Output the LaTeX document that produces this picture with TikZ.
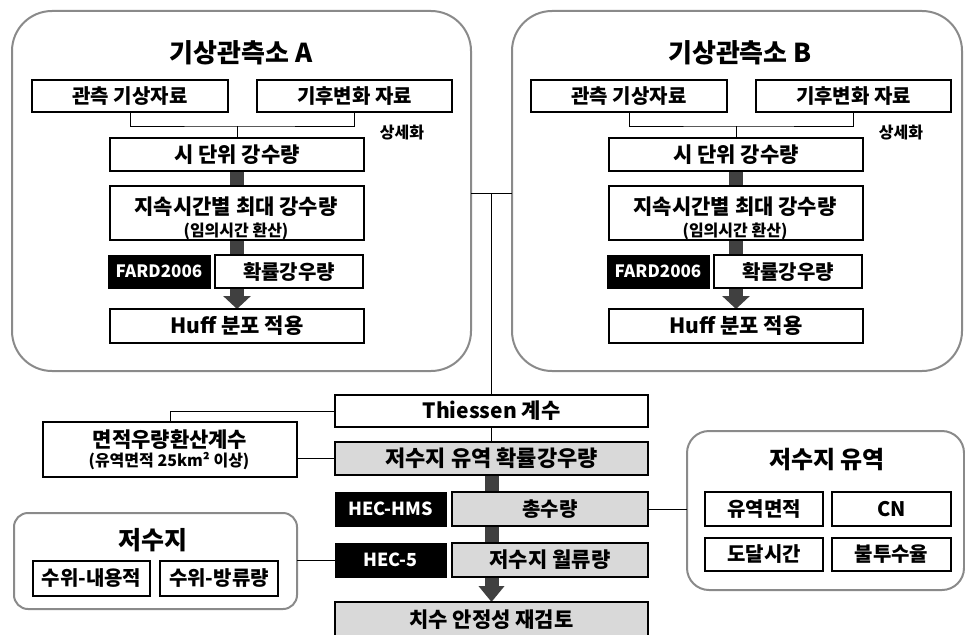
\documentclass[tikz,border=0pt]{standalone}
\usepackage{fontspec}
\setmainfont{Noto Sans CJK KR}
\usetikzlibrary{arrows.meta}
\pgfdeclarelayer{bg}
\pgfsetlayers{bg,main}
\definecolor{arrowc}{HTML}{404040}
\definecolor{panelc}{HTML}{8A8A8A}
\definecolor{grayfill}{HTML}{D9D9D9}
\begin{document}
\begin{tikzpicture}[x=1pt,y=-1pt,
  font=\bfseries,
  base/.style={draw=black, inner sep=0pt, outer sep=0pt, align=center, text=black},
  thinbox/.style={base, line width=1.2pt, fill=white},
  thickbox/.style={base, line width=2.2pt, fill=white},
  gbox/.style={base, line width=2.2pt, fill=grayfill},
  blk/.style={base, fill=black, text=white, line width=0.5pt},
  panel/.style={draw=panelc, line width=2pt, inner sep=0pt, outer sep=0pt},
  conn/.style={draw=black, line width=1pt},
  shaft/.style={draw=arrowc, line width=14pt},
  bigarrow/.style={draw=arrowc, line width=14pt, -{Triangle[width=27pt,length=13pt]}},
  fs/.style={font=\bfseries\fontsize{#1}{22}\selectfont},
  txt/.style={inner sep=0pt, outer sep=0pt}
]
\useasboundingbox (0,0) rectangle (965,634);
\clip (0,0) rectangle (965,634);

\foreach \s/\dx/\pc/\pw in {A/0/241.5/459,B/499/737/450}{
  \node[panel, rounded corners=40pt, minimum width=\pw pt, minimum height=360pt] (p\s) at (\pc,191) {};
  \node[fs=26] (t\s) at (241+\dx,53) {기상관측소 \s};
  \node[thinbox, fs=20, minimum width=196pt, minimum height=32pt] (obs\s) at (130+\dx,96) {관측 기상자료};
  \node[thinbox, fs=20, minimum width=195pt, minimum height=32pt] (cc\s) at (354.5+\dx,96) {기후변화 자료};
  \node[thickbox, fs=21, minimum width=254pt, minimum height=33pt] (hr\s) at (237+\dx,154.5) {시 단위 강수량};
  \node[fs=16] (lbl\s) at (402+\dx,133) {상세화};
  \node[thickbox, minimum width=254pt, minimum height=54pt] (dur\s) at (237+\dx,213) {};
  \node[txt, fs=21] (durone\s) at (236+\dx,207) {지속시간별 최대 강수량};
  \node[txt, fs=16] (durtwo\s) at (236+\dx,231) {(임의시간 환산)};
  \node[blk, fs=17, minimum width=102pt, minimum height=33pt] (fard\s) at (159+\dx,271.5) {FARD2006};
  \node[thickbox, fs=20, minimum width=148pt, minimum height=33pt] (prob\s) at (289+\dx,271.5) {확률강우량};
  \node[thickbox, fs=21, minimum width=254pt, minimum height=34pt] (huff\s) at (237+\dx,326) {Huff 분포 적용};
  \coordinate (j\s) at (237+\dx,126);
  \draw[conn] (obs\s.south) |- (j\s) -| (cc\s.south);
  \draw[conn] (j\s) -- (hr\s.north);
  \begin{pgfonlayer}{bg}
    \draw[shaft] (hr\s.south) -- (dur\s.north);
    \draw[bigarrow] (dur\s.south) -- (huff\s.north);
  \end{pgfonlayer}
}

% lower flow
\node[thinbox, fs=21, minimum width=313pt, minimum height=32pt] (thi) at (491.5,411) {Thiessen 계수};
\node[thinbox, minimum width=254pt, minimum height=55pt] (arf) at (170,449.5) {};
\node[txt, fs=21] (arfone) at (170,440) {면적우량환산계수};
\node[txt, fs=16] (arftwo) at (169,461) {(유역면적 25km² 이상)};
\node[gbox, fs=22, minimum width=313pt, minimum height=33pt] (bp) at (491.5,458.5) {저수지 유역 확률강우량};
\node[blk, fs=18, minimum width=111pt, minimum height=34pt] (hms) at (390.5,509) {HEC-HMS};
\node[gbox, fs=20, minimum width=196pt, minimum height=34pt] (tot) at (550,509) {총수량};
\node[blk, fs=18, minimum width=111pt, minimum height=34pt] (hecfive) at (390.5,560) {HEC-5};
\node[gbox, fs=21, minimum width=196pt, minimum height=34pt] (ovf) at (550,560) {저수지 월류량};
\node[gbox, fs=21, minimum width=313pt, minimum height=36pt] (fin) at (491.5,620) {치수 안정성 재검토};

% reservoir panel
\node[panel, rounded corners=14pt, minimum width=283pt, minimum height=96pt] (resv) at (155.5,561) {};
\node[fs=25] (resvT) at (153,540) {저수지};
\node[thickbox, fs=20, minimum width=117pt, minimum height=35pt] (rvone) at (91.5,578.5) {수위-내용적};
\node[thickbox, fs=20, minimum width=118pt, minimum height=35pt] (rvtwo) at (219,578.5) {수위-방류량};

% basin panel
\node[panel, rounded corners=22pt, minimum width=277pt, minimum height=159pt] (bas) at (825.5,510.5) {};
\node[fs=24] (basT) at (827,460) {저수지 유역};
\node[thickbox, fs=20, minimum width=118pt, minimum height=34pt] (area) at (764,509) {유역면적};
\node[thickbox, fs=20, minimum width=119pt, minimum height=34pt] (cn) at (891.5,509) {CN};
\node[thickbox, fs=20, minimum width=118pt, minimum height=33pt] (tc) at (764,554.5) {도달시간};
\node[thickbox, fs=20, minimum width=119pt, minimum height=33pt] (imp) at (891.5,554.5) {불투수율};

% connectors
\coordinate (jn) at (491.5,193);
\draw[conn] (pA.east |- jn) -- (pB.west |- jn);
\draw[conn] (jn) -- (thi.north);
\draw[conn] (thi.south) -- (bp.north);
\draw[conn] (arf.north) |- (thi.west);
\draw[conn] (arf.east |- bp.west) -- (bp.west);
\draw[conn] (resv.east |- hecfive.west) -- (hecfive.west);
\draw[conn] (tot.east) -- (bas.west |- tot.east);

\begin{pgfonlayer}{bg}
  \draw[draw=arrowc, line width=14pt, -{Triangle[width=25pt,length=16pt]}] (bp.south) -- (fin.north);
\end{pgfonlayer}
\end{tikzpicture}
\end{document}
